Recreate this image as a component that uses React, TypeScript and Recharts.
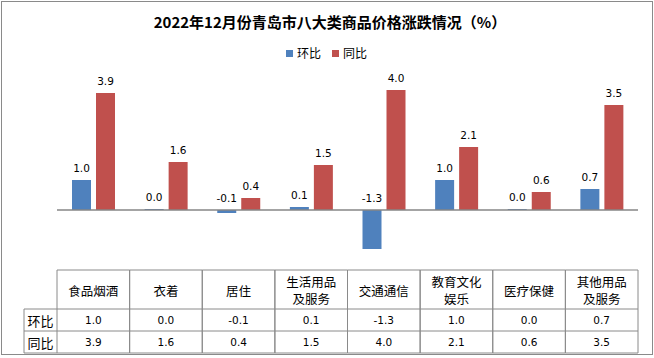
import { BarChart, Bar, XAxis, YAxis, ReferenceLine, LabelList } from "recharts";

const categories = [
    "食品烟酒",
    "衣着",
    "居住",
    "生活用品\n及服务",
    "交通通信",
    "教育文化\n娱乐",
    "医疗保健",
    "其他用品\n及服务",
];
const momValues = [1.0, 0.0, -0.1, 0.1, -1.3, 1.0, 0.0, 0.7];
const yoyValues = [3.9, 1.6, 0.4, 1.5, 4.0, 2.1, 0.6, 3.5];
const seriesNames = ["环比", "同比"];

const data = categories.map((name, i) => ({ name, mom: momValues[i], yoy: yoyValues[i] }));

const BLUE = "#4F81BD";
const RED = "#C0504D";
const GRID = "#8a8a8a";
const CJK = "'Noto Sans CJK SC', sans-serif";
const NUM = "'DejaVu Sans', 'Noto Sans CJK SC', sans-serif";

const PLOT_LEFT = 57;
const PLOT_RIGHT = 638;
const BAND = (PLOT_RIGHT - PLOT_LEFT) / categories.length;
const LABEL_COL_LEFT = 24;
const HEAD_LINE = 17;

function BarValueLabel(props: any) {
    const { x, y, width, height, value } = props;
    const top = Math.min(y, y + height);
    return (
        <text
            x={x + width / 2}
            y={top - 8}
            textAnchor="middle"
            fontSize={10.5}
            fontFamily={NUM}
            fill="#000"
        >
            {Number(value).toFixed(1)}
        </text>
    );
}

function TableTick(props: any) {
    const { x, y, payload } = props;
    const i = payload.index;
    const l = x - BAND / 2;
    const r = x + BAND / 2;
    const top = y;
    const row1 = y + 39;
    const row2 = y + 61;
    const bottom = y + 83;
    const lines = String(categories[i]).split("\n");
    const headCenter = (top + row1) / 2;
    return (
        <g>
            <line x1={l} y1={top} x2={r} y2={top} stroke={GRID} />
            <line x1={l} y1={row1} x2={r} y2={row1} stroke={GRID} />
            <line x1={l} y1={row2} x2={r} y2={row2} stroke={GRID} />
            <line x1={l} y1={bottom} x2={r} y2={bottom} stroke={GRID} />
            <line x1={r} y1={top} x2={r} y2={bottom} stroke={GRID} />
            <line x1={l} y1={top} x2={l} y2={bottom} stroke={GRID} />
            <text
                x={x}
                y={headCenter - ((lines.length - 1) / 2) * HEAD_LINE}
                textAnchor="middle"
                dominantBaseline="central"
                fontSize={12.5}
                fontFamily={CJK}
                fill="#000"
            >
                {lines.map((t, k) => (
                    <tspan key={k} x={x} dy={k === 0 ? 0 : HEAD_LINE}>
                        {t}
                    </tspan>
                ))}
            </text>
            <text x={x} y={(row1 + row2) / 2} textAnchor="middle" dominantBaseline="central" fontSize={10.5} fontFamily={NUM} fill="#000">
                {momValues[i].toFixed(1)}
            </text>
            <text x={x} y={(row2 + bottom) / 2} textAnchor="middle" dominantBaseline="central" fontSize={10.5} fontFamily={NUM} fill="#000">
                {yoyValues[i].toFixed(1)}
            </text>
            {i === 0 && (
                <g>
                    <line x1={LABEL_COL_LEFT} y1={row1} x2={l} y2={row1} stroke={GRID} />
                    <line x1={LABEL_COL_LEFT} y1={row2} x2={l} y2={row2} stroke={GRID} />
                    <line x1={LABEL_COL_LEFT} y1={bottom} x2={l} y2={bottom} stroke={GRID} />
                    <line x1={LABEL_COL_LEFT} y1={row1} x2={LABEL_COL_LEFT} y2={bottom} stroke={GRID} />
                    <text x={(LABEL_COL_LEFT + l) / 2} y={(row1 + row2) / 2} textAnchor="middle" dominantBaseline="central" fontSize={13} fontFamily={CJK} fill="#000">
                        {seriesNames[0]}
                    </text>
                    <text x={(LABEL_COL_LEFT + l) / 2} y={(row2 + bottom) / 2} textAnchor="middle" dominantBaseline="central" fontSize={13} fontFamily={CJK} fill="#000">
                        {seriesNames[1]}
                    </text>
                </g>
            )}
        </g>
    );
}

export default function App() {
    return (
        <div style={{ position: "absolute", left: 0, top: 0, width: 654, height: 358, background: "#fff" }}>
            <div
                style={{
                    position: "absolute",
                    left: 1,
                    top: 1,
                    width: 650,
                    height: 352,
                    border: `1px solid ${GRID}`,
                }}
            />
            <div
                style={{
                    position: "absolute",
                    left: 0,
                    top: 11,
                    width: 660,
                    textAlign: "center",
                    fontFamily: CJK,
                    fontWeight: 700,
                    fontSize: 15,
                    lineHeight: "22px",
                    color: "#000",
                }}
            >
                2022年12月份青岛市八大类商品价格涨跌情况（%）
            </div>
            <div
                style={{
                    position: "absolute",
                    left: 286,
                    top: 45,
                    display: "flex",
                    alignItems: "center",
                    fontFamily: CJK,
                    fontSize: 12,
                    lineHeight: "16px",
                    color: "#000",
                }}
            >
                <span style={{ width: 7, height: 7, background: BLUE, marginRight: 4 }} />
                <span style={{ marginRight: 11 }}>{seriesNames[0]}</span>
                <span style={{ width: 7, height: 7, background: RED, marginRight: 4 }} />
                <span>{seriesNames[1]}</span>
            </div>
            <div style={{ position: "absolute", left: 0, top: 0 }}>
                <BarChart
                    width={654}
                    height={358}
                    data={data}
                    margin={{ top: 60, right: 654 - PLOT_RIGHT, bottom: 4, left: PLOT_LEFT }}
                    barSize={19}
                    barGap={5}
                >
                    <YAxis hide domain={[-2, 5]} type="number" allowDataOverflow />
                    <XAxis
                        dataKey="name"
                        height={84}
                        axisLine={false}
                        tickLine={false}
                        tickSize={0}
                        tickMargin={0}
                        interval={0}
                        tick={<TableTick />}
                    />
                    <Bar dataKey="mom" name={seriesNames[0]} fill={BLUE} minPointSize={1} isAnimationActive={false}>
                        <LabelList dataKey="mom" content={<BarValueLabel />} />
                    </Bar>
                    <Bar dataKey="yoy" name={seriesNames[1]} fill={RED} isAnimationActive={false}>
                        <LabelList dataKey="yoy" content={<BarValueLabel />} />
                    </Bar>
                    <ReferenceLine y={0} stroke="#868686" strokeWidth={1.5} />
                </BarChart>
            </div>
        </div>
    );
}
